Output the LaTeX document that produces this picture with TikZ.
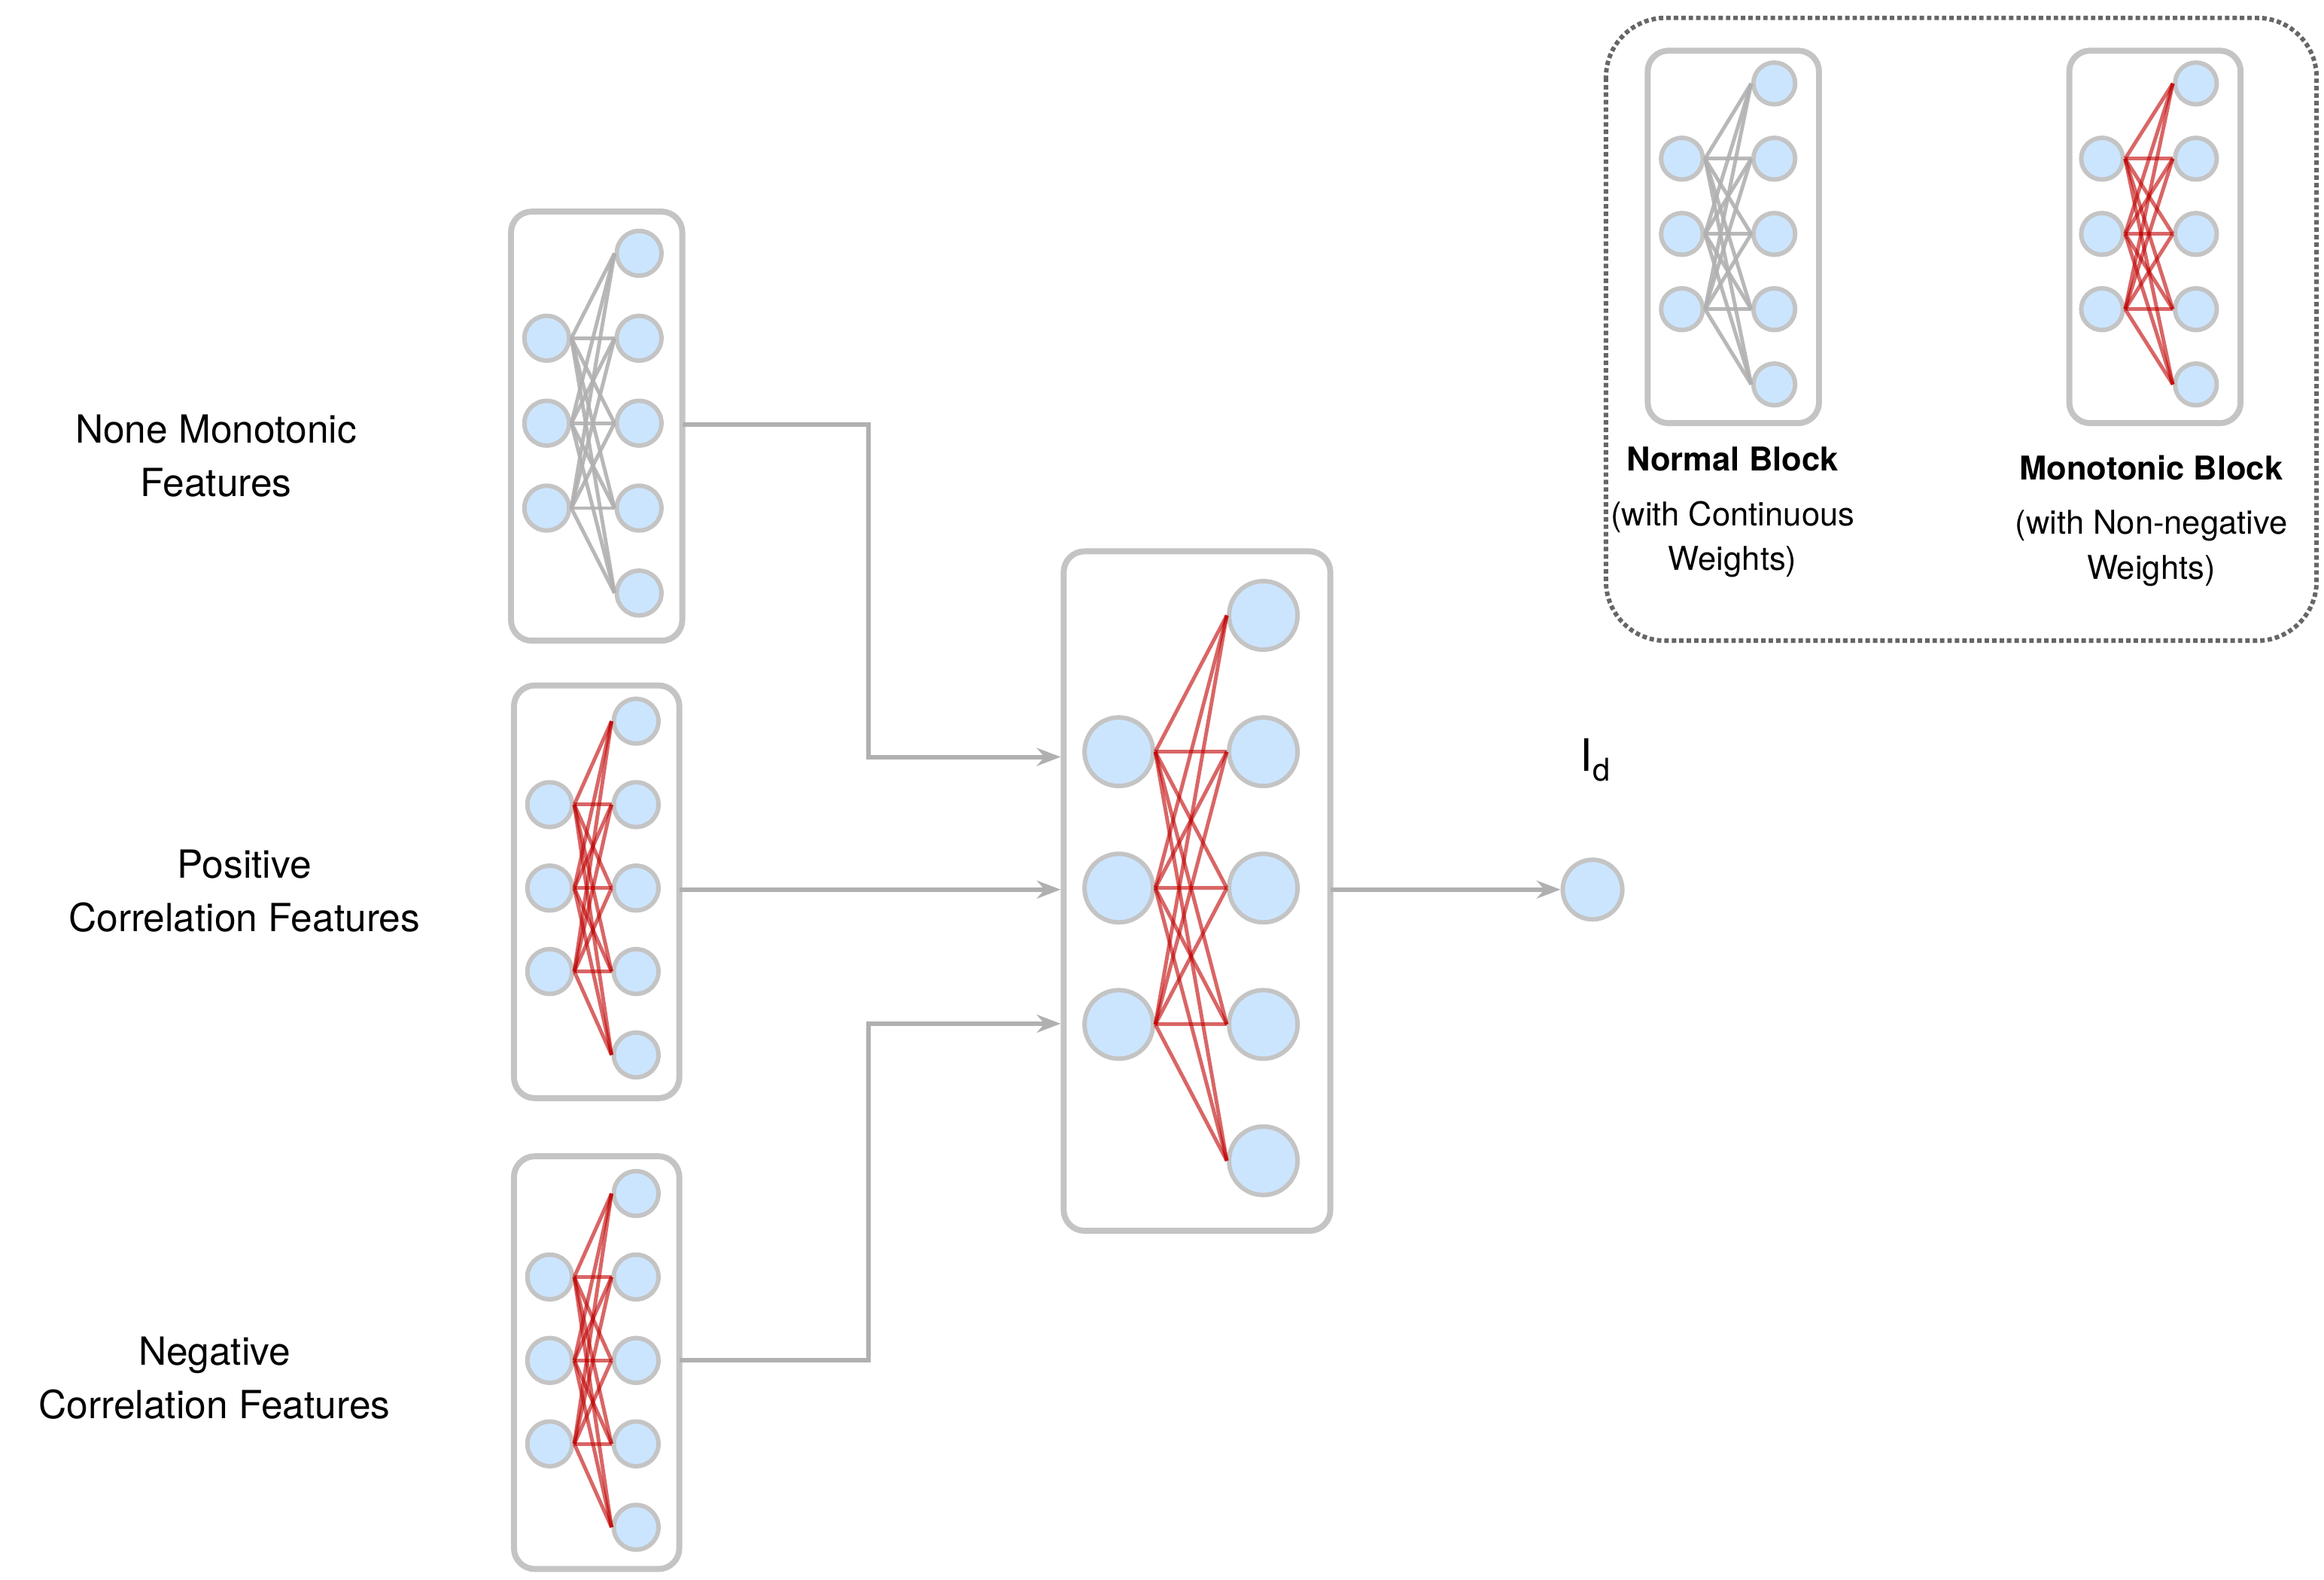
\documentclass[tikz,border=0pt]{standalone}
\usepackage{fontspec}
\setmainfont{TeX Gyre Heros}
\usetikzlibrary{arrows.meta}
\definecolor{nfill}{HTML}{CCE5FF}
\definecolor{ngray}{HTML}{C4C4C4}
\definecolor{ered}{HTML}{C00000}
\tikzset{
 neu/.style={circle,fill=nfill,draw=ngray,line width=3pt,inner sep=0pt,minimum size=#1},
 blk/.style={draw=ngray,line width=4pt,rounded corners=14pt},
 eg/.style={draw=ngray!90!black,line width=2.5pt,opacity=0.9},
 er/.style={draw=ered,line width=2.5pt,opacity=0.6},
 conn/.style={draw=ngray!90!black,line width=3pt,-{Stealth[length=16pt,width=12pt]}},
 lab/.style={font=\fontsize{26}{36}\selectfont,align=center},
}
% prefix, xin, xout, yc, spacing, diameter, edge style
\newcommand\netblock[7]{%
 \foreach \i in {1,2,3}{\node[neu=#6] (#1i\i) at (#2,{#4+(\i-2)*#5}) {};}
 \foreach \j in {1,...,5}{\node[neu=#6] (#1o\j) at (#3,{#4+(\j-3)*#5}) {};}
 \foreach \i in {1,2,3}{\foreach \j in {1,...,5}{\draw[#7] (#1i\i.east) -- (#1o\j.west);}}
}
\begin{document}
\begin{tikzpicture}[x=1pt,y=-1pt]
\useasboundingbox (0,0) rectangle (1560,1060);
% legend
\draw[draw=black!60,line width=3pt,dotted,rounded corners=40pt] (1078,12) rectangle (1555,430);
\draw[blk] (1106,34) rectangle (1221,284);
\draw[blk] (1389,34) rectangle (1504,284);
\netblock{la}{1129}{1191}{157}{50.5}{28pt}{eg}
\netblock{lb}{1411}{1474}{157}{50.5}{28pt}{er}
\node[lab,font=\bfseries\fontsize{22}{30}\selectfont] (t1) at (1163,308) {Normal Block};
\node[lab,font=\fontsize{22}{30}\selectfont] (t2) at (1163,362) {(with Continuous\\Weights)};
\node[lab,font=\bfseries\fontsize{22}{30}\selectfont] (t3) at (1444,314) {Monotonic Block};
\node[lab,font=\fontsize{22}{30}\selectfont] (t4) at (1444,368) {(with Non-negative\\Weights)};
% blocks
\draw[blk] (343,142) rectangle (458,430); \coordinate (b1) at (458,285);
\draw[blk] (345,460) rectangle (456,737); \coordinate (b2) at (456,597);
\draw[blk] (345,776) rectangle (456,1053); \coordinate (b3) at (456,913);
\draw[blk] (714,370) rectangle (893,826); \coordinate (bb) at (893,597);
\netblock{a}{367}{429}{284}{57}{30pt}{eg}
\netblock{b}{369}{427}{596}{56}{30pt}{er}
\netblock{c}{369}{427}{913}{56}{30pt}{er}
\netblock{d}{751}{848}{596}{91.5}{46pt}{er}
\node[neu=40pt] (out) at (1069,597) {};
\node[font=\fontsize{30}{36}\selectfont] (ld) at (1071,510) {I$_{\mathrm{d}}$};
% connectors
\coordinate (m1) at (712,508); \coordinate (m2) at (712,597); \coordinate (m3) at (712,687);
\draw[conn] (b1) -- (583,285) |- (m1);
\draw[conn] (b2) -- (m2);
\draw[conn] (b3) -- (583,913) |- (m3);
\draw[conn] (bb) -- (out);
% labels
\node[lab] (l1) at (145,306) {None Monotonic\\Features};
\node[lab] (l2) at (164,598) {Positive\\Correlation Features};
\node[lab] (l3) at (144,925) {Negative\\Correlation Features};
\end{tikzpicture}
\end{document}
